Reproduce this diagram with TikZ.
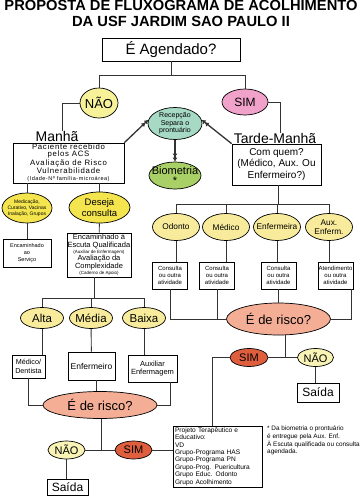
\documentclass[tikz,border=0pt]{standalone}
\usepackage{fontspec}
\setmainfont{Liberation Sans}
\newfontfamily\widesans[LetterSpace=9]{Liberation Sans}
\usepackage{tikz}
\usetikzlibrary{arrows.meta,positioning,shapes.geometric}
\definecolor{lineGray}{HTML}{333333}
\definecolor{paleYellow}{HTML}{F7F29A}
\definecolor{rosePink}{HTML}{F0A2CA}
\definecolor{seaGreen}{HTML}{A6DAC4}
\definecolor{limeGreen}{HTML}{A8D066}
\definecolor{brightYellow}{HTML}{F4E54E}
\definecolor{softYellow}{HTML}{F8EC9C}
\definecolor{creamYellow}{HTML}{F9F3B5}
\definecolor{salmonRed}{HTML}{F5AE96}
\definecolor{brickRed}{HTML}{DE5E3E}
\newcommand{\fsz}[2]{\fontsize{#1}{#2}\selectfont}

\begin{document}
\begin{tikzpicture}[x=1pt,y=-1pt,
    box/.style={draw, fill=white, line width=0.7pt, inner sep=0pt, align=center},
    oval/.style={ellipse, draw, line width=0.7pt, inner sep=-12pt, align=center},
    link/.style={draw=lineGray, line width=0.9pt},
    arr/.style={link, line width=1.3pt, -{Latex[length=4pt,width=5pt]Latex[length=4pt,width=5pt]}}]
        \useasboundingbox (0,0) rectangle (362,496);

        % titulo
        \node[anchor=base, inner sep=0pt, font=\bfseries\fsz{14.7}{16}] (title1) at (181,10.5) {PROPOSTA DE FLUXOGRAMA DE ACOLHIMENTO};
        \node[anchor=base, inner sep=0pt, font=\bfseries\fsz{14.7}{16}] (title2) at (181,26.5) {DA USF JARDIM SAO PAULO II};

        \node[box, minimum width=138pt, minimum height=23pt, font=\fsz{15}{17}] (agend) at (171,49.5) {É Agendado?};
        \coordinate (jtop) at (171,75);
        \node[oval, fill=paleYellow, minimum width=38pt, minimum height=30pt, font=\fsz{13}{14}] (naoA) at (99,103) {NÃO};
        \node[oval, fill=rosePink, minimum width=46pt, minimum height=26pt, font=\fsz{12}{13}] (simA) at (245,102) {SIM};
        \draw[link] (agend) -- (jtop);
        \draw[link] (jtop) -| (naoA);
        \draw[link] (jtop) -| (simA);

        % recepcao
        \node[oval, fill=seaGreen, minimum width=54pt, minimum height=32pt, font=\fsz{7}{7.6}] (recep) at (175,123.5) {Recepção\\Separa o\\prontuário};
        \node[oval, fill=limeGreen, minimum width=52pt, minimum height=27pt, font=\fsz{11}{10}] (biom) at (175,175.5) {Biometria\\*};
        \draw[arr] (recep) -- (biom);

        % manha
        \node[anchor=base, inner sep=0pt, font=\fsz{14}{16}] (manha) at (57,141) {Manhã};
        \node[box, minimum width=111pt, minimum height=40pt, font=\widesans\fsz{7.8}{7.2}] (acs) at (68.5,163)
            {Paciente recebido\\pelos ACS\\Avaliação de Risco\\Vulnerabilidade\\{\fsz{5.5}{6.5}(Idade-Nº família-microárea)}};
        \draw[link] (naoA) -| ([xshift=5pt]manha.north);
        \draw[arr] (acs.north east) -- (recep.172);

        \node[oval, fill=brightYellow, minimum width=50pt, minimum height=30pt, font=\fsz{5}{5.8}] (medic) at (27,208) {Medicação,\\Curativo, Vacinas\\Inalação, Grupos};
        \node[oval, fill=brightYellow, minimum width=61pt, minimum height=31pt, font=\fsz{9.5}{10.5}] (deseja) at (99.5,207.5) {Deseja\\consulta};
        \draw[link] (acs.south -| medic) -- (medic);
        \draw[link] (acs.south -| deseja) -- (deseja);
        \node[box, minimum width=48pt, minimum height=28pt, font=\fsz{5.5}{7}] (encserv) at (27,253) {Encaminhado\\ao\\Serviço};
        \draw[link] (medic) -- (encserv);
        \node[box, minimum width=64pt, minimum height=44pt, font=\fsz{7.5}{8}] (escuta) at (99,255)
            {Encaminhado à\\Escuta Qualificada\\[-2pt]{\fsz{4.5}{5}(Auxiliar de Enfermagem)}\\[-1pt]Avaliação da\\Complexidade\\[-2pt]{\fsz{4.5}{5}(Caderno de Apoio)}};
        \draw[link] (deseja) -- (escuta);

        \coordinate (jl) at (94,298);
        \draw[link] ([xshift=-5pt]escuta.south) -- (jl);
        \foreach \n/\x/\t in {alta/42/Alta, media/91/Média, baixa/144/Baixa} {
            \node[oval, fill=softYellow, minimum width=43pt, minimum height=21pt, font=\fsz{11.5}{12}] (\n) at (\x,318) {\t};
            \draw[link] (jl) -| (\n);
        }
        \node[box, minimum width=33pt, minimum height=23pt, font=\fsz{7.2}{8.5}] (meddent) at (28.5,366.5) {Médico/\\Dentista};
        \node[box, minimum width=47pt, minimum height=28pt, font=\fsz{8.5}{9}] (enfo) at (91.5,366) {Enfermeiro};
        \node[box, minimum width=49pt, minimum height=27pt, font=\fsz{7.5}{8.5}] (auxenf) at (152.5,368.5) {Auxiliar\\Enfermagem};
        \draw[link] (alta) -- (alta |- meddent.north);
        \draw[link] (media) -- (enfo);
        \draw[link] (baixa) -- (baixa |- auxenf.north);

        \node[oval, fill=salmonRed, minimum width=114pt, minimum height=27pt, font=\fsz{13}{14}] (riskL) at (100,405) {É de risco?};
        \draw[link] (meddent) |- (riskL.west);
        \draw[link] ([xshift=5pt]enfo.south) -- ([xshift=5pt]enfo.south |- riskL.north);
        \draw[link] ([xshift=17.5pt]auxenf.south) |- (riskL.east);

        \coordinate (jll) at (101.5,450);
        \node[oval, fill=creamYellow, minimum width=37pt, minimum height=18pt, font=\fsz{11}{12}] (naoL) at (66.5,450) {NÃO};
        \node[oval, fill=brickRed, minimum width=37pt, minimum height=18pt, font=\fsz{11}{12}] (simL) at (133.5,450) {SIM};
        \draw[link] (riskL.south -| jll) -- (jll);
        \draw[link] (naoL) -- (simL);
        \node[box, minimum width=41pt, minimum height=16pt, font=\fsz{12}{13}] (saidaL) at (67.5,487.5) {Saída};
        \draw[link] (naoL) -- (naoL |- saidaL.north);

        % tarde
        \node[anchor=base, inner sep=0pt, font=\fsz{14}{16}] (tarde) at (275,143) {Tarde-Manhã};
        \node[box, minimum width=89pt, minimum height=41pt, font=\fsz{10}{11.8}] (quem) at (276.5,164.5) {Com quem?\\(Médico, Aux. Ou\\Enfermeiro?)};
        \draw[link] (simA) -| ([xshift=5pt]tarde.north);
        \draw[arr] (quem.north west) -- (recep.8);

        \coordinate (jr) at (278,204);
        \draw[link] (quem.south -| jr) -- (jr);
        \foreach \n/\x/\t in {odonto/176/Odonto, medico/226/Médico, enfa/277/Enfermeira, auxe/329/{Aux.\\Enferm.}} {
            \node[oval, fill=softYellow, minimum width=47pt, minimum height=27pt, font=\fsz{8.3}{9}] (\n) at (\x,227) {\t};
            \draw[link] (jr) -| (\n);
        }
        \foreach \n/\x/\t in {c1/170/Consulta, c2/217/Consulta, c3/278.5/Consulta, c4/335.5/Atendimento} {
            \node[box, minimum width=35pt, minimum height=27pt, font=\fsz{6}{7}] (\n) at (\x,275.5) {\t\\ou outra\\atividade};
        }
        \foreach \a/\b in {odonto/c1, medico/c2, enfa/c3, auxe/c4}
            \draw[link] (\a) -- (\a |- \b.north);

        \node[oval, fill=salmonRed, minimum width=104pt, minimum height=32pt, font=\fsz{13}{14}] (riskR) at (278.5,319) {É de risco?};
        \draw[link] (c1) |- (riskR.west);
        \draw[link] (c2) |- (riskR.west);
        \draw[link] (c3) -- (c3 |- riskR.north);
        \draw[link] ([xshift=-2pt]c4.south east) |- (riskR.east);

        \coordinate (jrr) at (285,357.5);
        \node[oval, fill=brickRed, minimum width=38pt, minimum height=18pt, font=\fsz{11}{12}] (simR) at (249,357.5) {SIM};
        \node[oval, fill=creamYellow, minimum width=36pt, minimum height=18pt, font=\fsz{11}{12}] (naoR) at (315.5,357.5) {NÃO};
        \draw[link] (riskR.south -| jrr) -- (jrr);
        \draw[link] (simR) -- (naoR);
        \node[box, minimum width=42pt, minimum height=19pt, font=\fsz{12}{13}] (saidaR) at (318,392.5) {Saída};
        \draw[link] (naoR) -- (naoR |- saidaR.north);

        \node[box, minimum width=89pt, minimum height=61pt, text width=85pt, align=left, font=\fsz{6.6}{7.4}] (proj) at (217.5,456.5)
            {Projeto Terapêutico e\\Educativo:\\VD\\Grupo-Programa HAS\\Grupo-Programa PN\\Grupo-Prog. Puericultura\\Grupo Educ. Odonto\\Grupo Acolhimento};
        \draw[link] (simR) -| ([xshift=-5.5pt]proj.north);
        \draw[link] (simL) -- (simL -| proj.west);

        \node[anchor=north west, inner sep=0pt, align=left, font=\fsz{6.4}{7.6}] (nota) at (267,426)
            {* Da biometria o prontuário\\é entregue pela Aux. Enf.\\À Escuta qualificada ou consulta\\agendada.};
    \end{tikzpicture}
\end{document}
